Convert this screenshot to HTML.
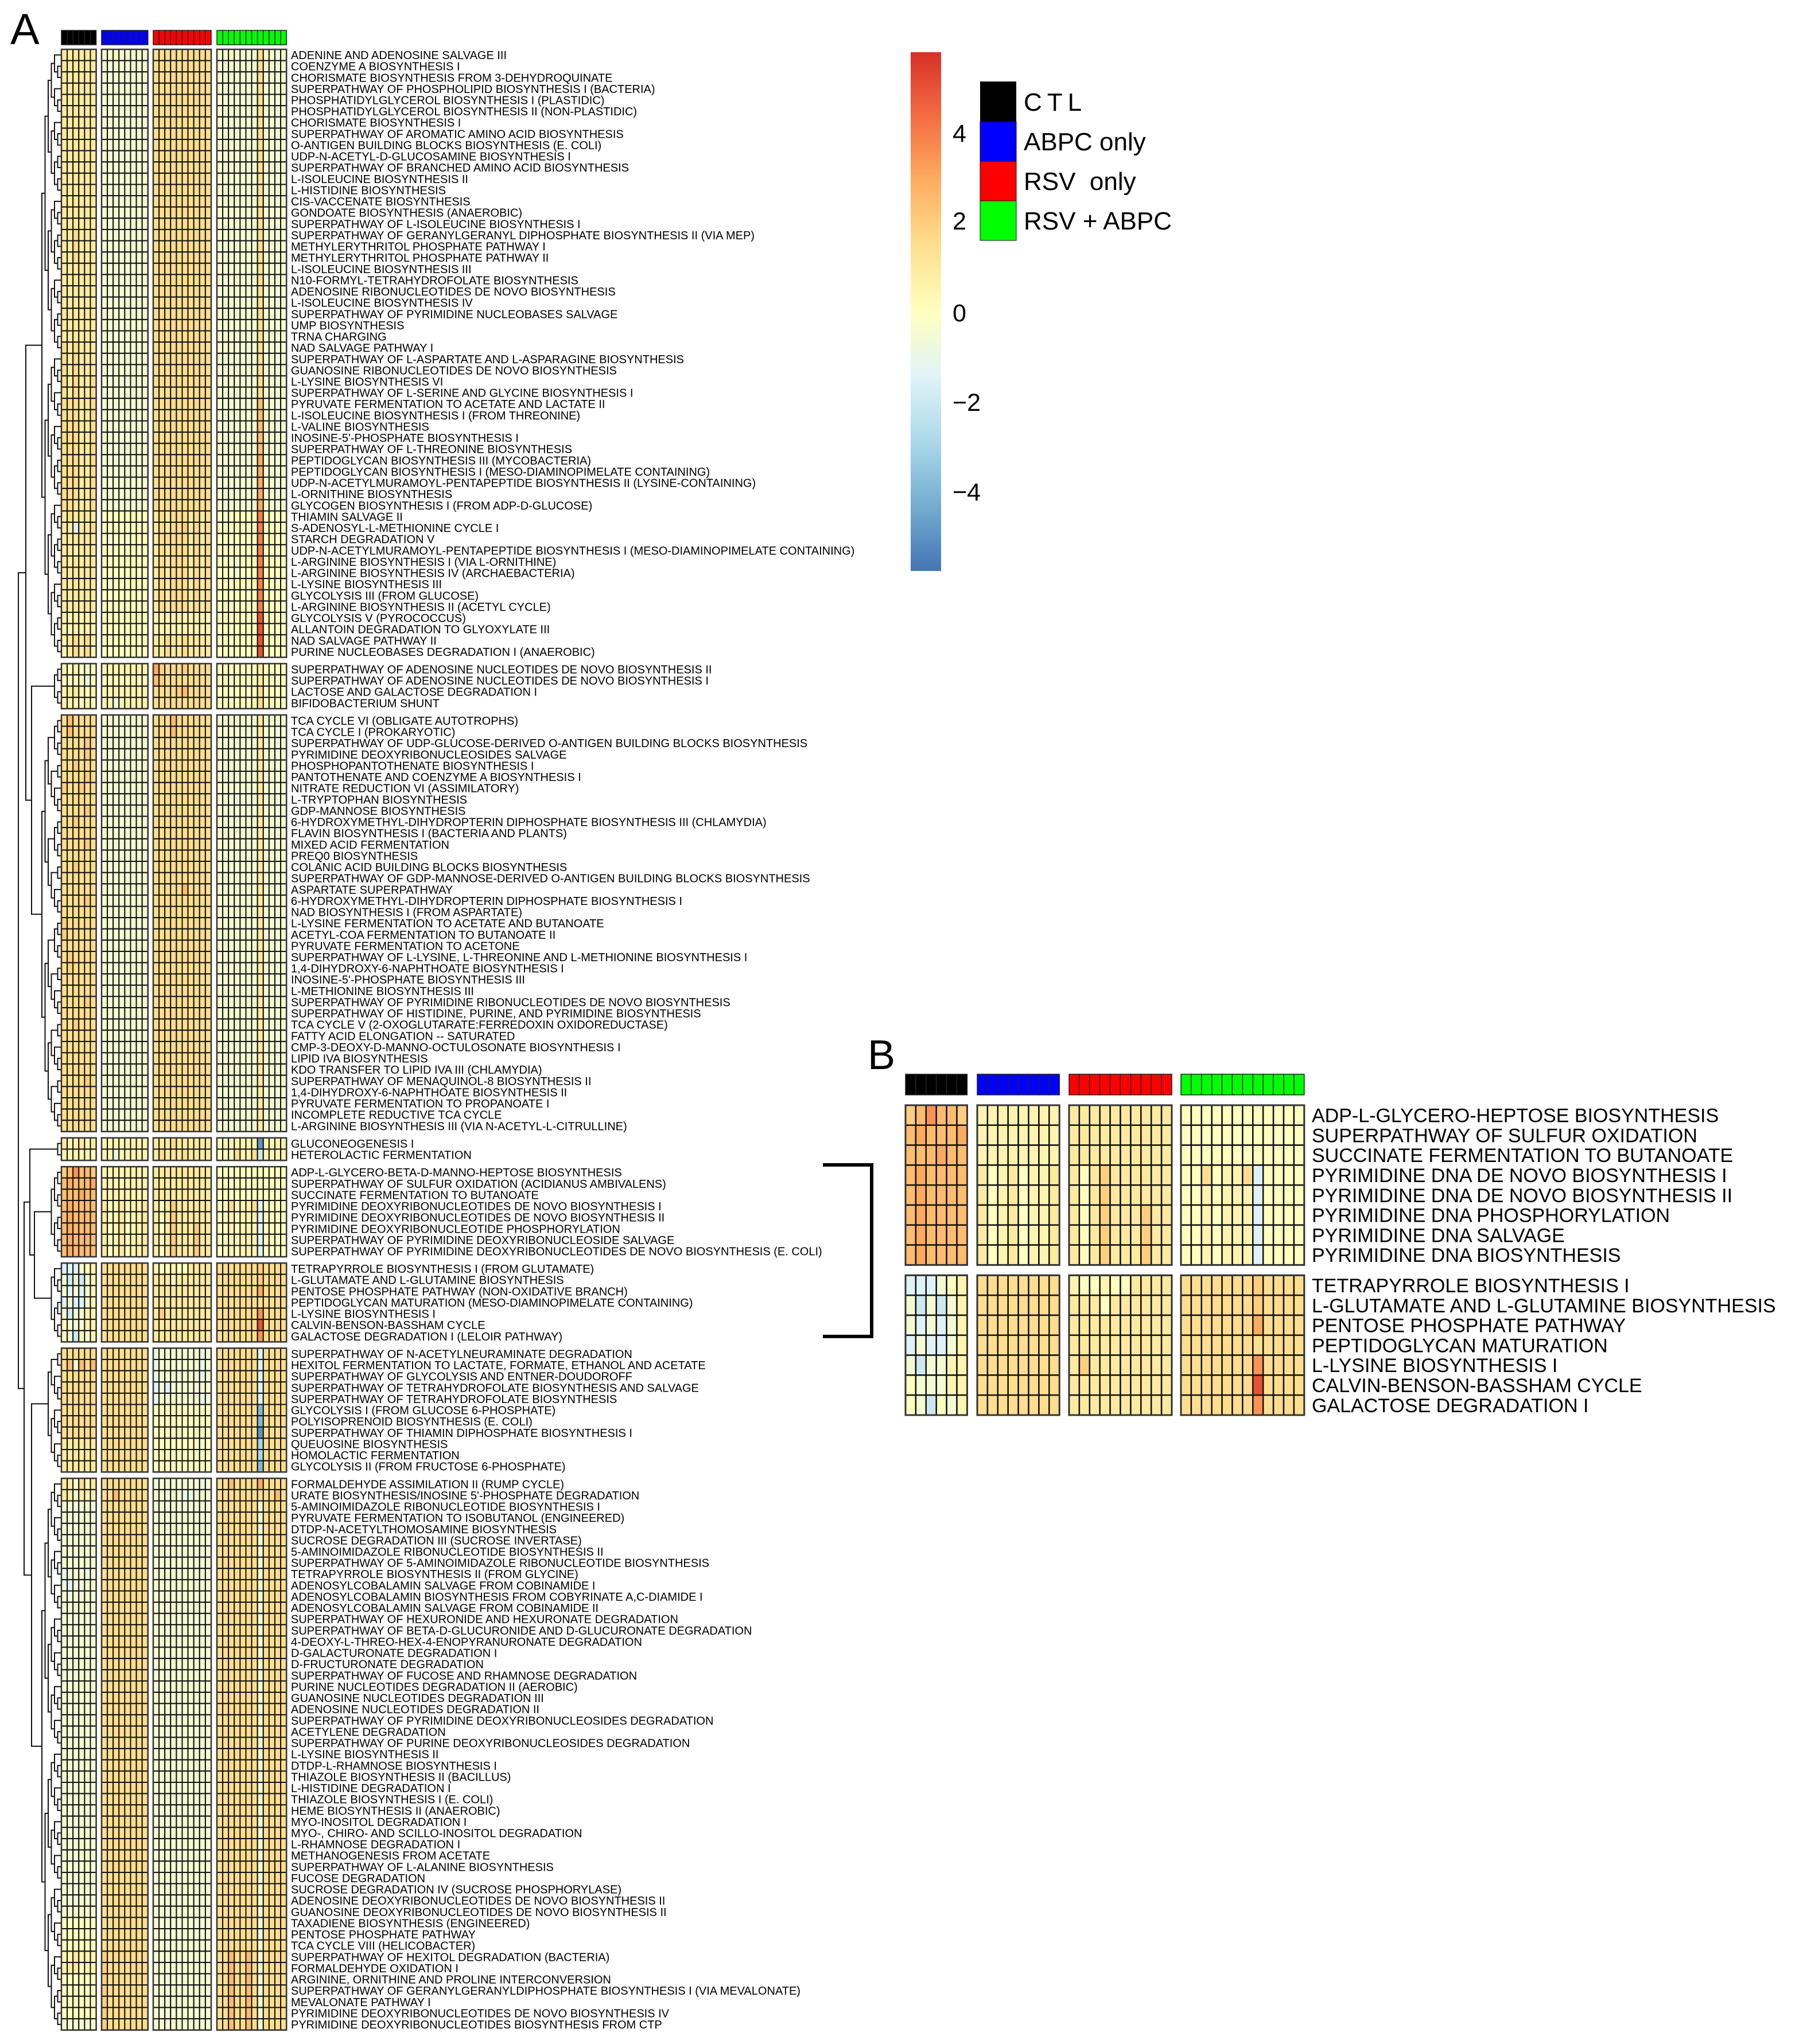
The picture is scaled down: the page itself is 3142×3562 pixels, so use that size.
<!DOCTYPE html>
<html><head><meta charset="utf-8"><style>
html,body{margin:0;padding:0;background:#fff;}
svg{display:block;font-family:"Liberation Sans",sans-serif;}
</style></head><body>
<svg id="fig" width="3142" height="3562" viewBox="0 0 3142 3562" xmlns="http://www.w3.org/2000/svg">
<defs><linearGradient id="cbar" x1="0" y1="1" x2="0" y2="0">
<stop offset="0" stop-color="#4575b4"/><stop offset="0.125" stop-color="#74add1"/><stop offset="0.25" stop-color="#abd9e9"/><stop offset="0.375" stop-color="#e0f3f8"/><stop offset="0.5" stop-color="#ffffbf"/><stop offset="0.625" stop-color="#fee090"/><stop offset="0.75" stop-color="#fdae61"/><stop offset="0.875" stop-color="#f46d43"/><stop offset="1" stop-color="#d73027"/></linearGradient></defs>
<text x="18" y="77" font-size="76">A</text>
<text x="1512" y="1863" font-size="72">B</text>
<g>
<rect x="1587" y="91" width="53" height="904" fill="url(#cbar)"/>
<g font-size="43">
<text x="1660" y="247">4</text><text x="1660" y="400">2</text><text x="1660" y="560">0</text><text x="1660" y="716">−2</text><text x="1660" y="872">−4</text></g>
</g>
<g font-size="44">
<rect x="1708" y="142" width="63" height="70" fill="#000"/>
<rect x="1708" y="212" width="63" height="69" fill="#0000ff" stroke="#111"/>
<rect x="1708" y="281" width="63" height="69" fill="#ff0000" stroke="#111"/>
<rect x="1708" y="350" width="63" height="69" fill="#00ff00" stroke="#111"/>
<text x="1784" y="193" letter-spacing="9">CTL</text>
<text x="1784" y="262">ABPC only</text>
<text x="1784" y="331" xml:space="preserve">RSV  only</text>
<text x="1784" y="400">RSV + ABPC</text>
</g>
<g stroke="#000" stroke-width="6" fill="none">
<path d="M1434 2030 H1519 V2329 H1434"/></g>
<g id="gA"></g>
<g id="gB"></g>
</svg>
<script>
// ---- data ----
const groupNames = ["CTL","ABPC only","RSV only","RSV + ABPC"];
const groupSizes = [6,8,10,12];
const groupColors = ["#000000","#0000ff","#ff0000","#00ff00"];
const clusterSizes = [54,4,37,2,8,7,11,49];
// value code: a=-5 b=-4 c=-3 d=-2 e=-1.5 f=-1 g=-0.5 h=0 i=0.5 j=1 k=1.5 l=2 m=2.5 n=3 o=3.5 p=4 q=5
const codeValues = {a:-5,b:-4,c:-3,d:-2,e:-1.5,f:-1,g:-0.5,h:0,i:0.5,j:1,k:1.5,l:2,m:2.5,n:3,o:3.5,p:4,q:5};
const labelsA = ["ADENINE AND ADENOSINE SALVAGE III","COENZYME A BIOSYNTHESIS I","CHORISMATE BIOSYNTHESIS FROM 3-DEHYDROQUINATE","SUPERPATHWAY OF PHOSPHOLIPID BIOSYNTHESIS I (BACTERIA)","PHOSPHATIDYLGLYCEROL BIOSYNTHESIS I (PLASTIDIC)","PHOSPHATIDYLGLYCEROL BIOSYNTHESIS II (NON-PLASTIDIC)","CHORISMATE BIOSYNTHESIS I","SUPERPATHWAY OF AROMATIC AMINO ACID BIOSYNTHESIS","O-ANTIGEN BUILDING BLOCKS BIOSYNTHESIS (E. COLI)","UDP-N-ACETYL-D-GLUCOSAMINE BIOSYNTHESIS I","SUPERPATHWAY OF BRANCHED AMINO ACID BIOSYNTHESIS","L-ISOLEUCINE BIOSYNTHESIS II","L-HISTIDINE BIOSYNTHESIS","CIS-VACCENATE BIOSYNTHESIS","GONDOATE BIOSYNTHESIS (ANAEROBIC)","SUPERPATHWAY OF L-ISOLEUCINE BIOSYNTHESIS I","SUPERPATHWAY OF GERANYLGERANYL DIPHOSPHATE BIOSYNTHESIS II (VIA MEP)","METHYLERYTHRITOL PHOSPHATE PATHWAY I","METHYLERYTHRITOL PHOSPHATE PATHWAY II","L-ISOLEUCINE BIOSYNTHESIS III","N10-FORMYL-TETRAHYDROFOLATE BIOSYNTHESIS","ADENOSINE RIBONUCLEOTIDES DE NOVO BIOSYNTHESIS","L-ISOLEUCINE BIOSYNTHESIS IV","SUPERPATHWAY OF PYRIMIDINE NUCLEOBASES SALVAGE","UMP BIOSYNTHESIS","TRNA CHARGING","NAD SALVAGE PATHWAY I","SUPERPATHWAY OF L-ASPARTATE AND L-ASPARAGINE BIOSYNTHESIS","GUANOSINE RIBONUCLEOTIDES DE NOVO BIOSYNTHESIS","L-LYSINE BIOSYNTHESIS VI","SUPERPATHWAY OF L-SERINE AND GLYCINE BIOSYNTHESIS I","PYRUVATE FERMENTATION TO ACETATE AND LACTATE II","L-ISOLEUCINE BIOSYNTHESIS I (FROM THREONINE)","L-VALINE BIOSYNTHESIS","INOSINE-5'-PHOSPHATE BIOSYNTHESIS I","SUPERPATHWAY OF L-THREONINE BIOSYNTHESIS","PEPTIDOGLYCAN BIOSYNTHESIS III (MYCOBACTERIA)","PEPTIDOGLYCAN BIOSYNTHESIS I (MESO-DIAMINOPIMELATE CONTAINING)","UDP-N-ACETYLMURAMOYL-PENTAPEPTIDE BIOSYNTHESIS II (LYSINE-CONTAINING)","L-ORNITHINE BIOSYNTHESIS","GLYCOGEN BIOSYNTHESIS I (FROM ADP-D-GLUCOSE)","THIAMIN SALVAGE II","S-ADENOSYL-L-METHIONINE CYCLE I","STARCH DEGRADATION V","UDP-N-ACETYLMURAMOYL-PENTAPEPTIDE BIOSYNTHESIS I (MESO-DIAMINOPIMELATE CONTAINING)","L-ARGININE BIOSYNTHESIS I (VIA L-ORNITHINE)","L-ARGININE BIOSYNTHESIS IV (ARCHAEBACTERIA)","L-LYSINE BIOSYNTHESIS III","GLYCOLYSIS III (FROM GLUCOSE)","L-ARGININE BIOSYNTHESIS II (ACETYL CYCLE)","GLYCOLYSIS V (PYROCOCCUS)","ALLANTOIN DEGRADATION TO GLYOXYLATE III","NAD SALVAGE PATHWAY II","PURINE NUCLEOBASES DEGRADATION I (ANAEROBIC)",
"SUPERPATHWAY OF ADENOSINE NUCLEOTIDES DE NOVO BIOSYNTHESIS II","SUPERPATHWAY OF ADENOSINE NUCLEOTIDES DE NOVO BIOSYNTHESIS I","LACTOSE AND GALACTOSE DEGRADATION I","BIFIDOBACTERIUM SHUNT",
"TCA CYCLE VI (OBLIGATE AUTOTROPHS)","TCA CYCLE I (PROKARYOTIC)","SUPERPATHWAY OF UDP-GLUCOSE-DERIVED O-ANTIGEN BUILDING BLOCKS BIOSYNTHESIS","PYRIMIDINE DEOXYRIBONUCLEOSIDES SALVAGE","PHOSPHOPANTOTHENATE BIOSYNTHESIS I","PANTOTHENATE AND COENZYME A BIOSYNTHESIS I","NITRATE REDUCTION VI (ASSIMILATORY)","L-TRYPTOPHAN BIOSYNTHESIS","GDP-MANNOSE BIOSYNTHESIS","6-HYDROXYMETHYL-DIHYDROPTERIN DIPHOSPHATE BIOSYNTHESIS III (CHLAMYDIA)","FLAVIN BIOSYNTHESIS I (BACTERIA AND PLANTS)","MIXED ACID FERMENTATION","PREQ0 BIOSYNTHESIS","COLANIC ACID BUILDING BLOCKS BIOSYNTHESIS","SUPERPATHWAY OF GDP-MANNOSE-DERIVED O-ANTIGEN BUILDING BLOCKS BIOSYNTHESIS","ASPARTATE SUPERPATHWAY","6-HYDROXYMETHYL-DIHYDROPTERIN DIPHOSPHATE BIOSYNTHESIS I","NAD BIOSYNTHESIS I (FROM ASPARTATE)","L-LYSINE FERMENTATION TO ACETATE AND BUTANOATE","ACETYL-COA FERMENTATION TO BUTANOATE II","PYRUVATE FERMENTATION TO ACETONE","SUPERPATHWAY OF L-LYSINE, L-THREONINE AND L-METHIONINE BIOSYNTHESIS I","1,4-DIHYDROXY-6-NAPHTHOATE BIOSYNTHESIS I","INOSINE-5'-PHOSPHATE BIOSYNTHESIS III","L-METHIONINE BIOSYNTHESIS III","SUPERPATHWAY OF PYRIMIDINE RIBONUCLEOTIDES DE NOVO BIOSYNTHESIS","SUPERPATHWAY OF HISTIDINE, PURINE, AND PYRIMIDINE BIOSYNTHESIS","TCA CYCLE V (2-OXOGLUTARATE:FERREDOXIN OXIDOREDUCTASE)","FATTY ACID ELONGATION -- SATURATED","CMP-3-DEOXY-D-MANNO-OCTULOSONATE BIOSYNTHESIS I","LIPID IVA BIOSYNTHESIS","KDO TRANSFER TO LIPID IVA III (CHLAMYDIA)","SUPERPATHWAY OF MENAQUINOL-8 BIOSYNTHESIS II","1,4-DIHYDROXY-6-NAPHTHOATE BIOSYNTHESIS II","PYRUVATE FERMENTATION TO PROPANOATE I","INCOMPLETE REDUCTIVE TCA CYCLE","L-ARGININE BIOSYNTHESIS III (VIA N-ACETYL-L-CITRULLINE)",
"GLUCONEOGENESIS I","HETEROLACTIC FERMENTATION",
"ADP-L-GLYCERO-BETA-D-MANNO-HEPTOSE BIOSYNTHESIS","SUPERPATHWAY OF SULFUR OXIDATION (ACIDIANUS AMBIVALENS)","SUCCINATE FERMENTATION TO BUTANOATE","PYRIMIDINE DEOXYRIBONUCLEOTIDES DE NOVO BIOSYNTHESIS I","PYRIMIDINE DEOXYRIBONUCLEOTIDES DE NOVO BIOSYNTHESIS II","PYRIMIDINE DEOXYRIBONUCLEOTIDE PHOSPHORYLATION","SUPERPATHWAY OF PYRIMIDINE DEOXYRIBONUCLEOSIDE SALVAGE","SUPERPATHWAY OF PYRIMIDINE DEOXYRIBONUCLEOTIDES DE NOVO BIOSYNTHESIS (E. COLI)",
"TETRAPYRROLE BIOSYNTHESIS I (FROM GLUTAMATE)","L-GLUTAMATE AND L-GLUTAMINE BIOSYNTHESIS","PENTOSE PHOSPHATE PATHWAY (NON-OXIDATIVE BRANCH)","PEPTIDOGLYCAN MATURATION (MESO-DIAMINOPIMELATE CONTAINING)","L-LYSINE BIOSYNTHESIS I","CALVIN-BENSON-BASSHAM CYCLE","GALACTOSE DEGRADATION I (LELOIR PATHWAY)",
"SUPERPATHWAY OF N-ACETYLNEURAMINATE DEGRADATION","HEXITOL FERMENTATION TO LACTATE, FORMATE, ETHANOL AND ACETATE","SUPERPATHWAY OF GLYCOLYSIS AND ENTNER-DOUDOROFF","SUPERPATHWAY OF TETRAHYDROFOLATE BIOSYNTHESIS AND SALVAGE","SUPERPATHWAY OF TETRAHYDROFOLATE BIOSYNTHESIS","GLYCOLYSIS I (FROM GLUCOSE 6-PHOSPHATE)","POLYISOPRENOID BIOSYNTHESIS (E. COLI)","SUPERPATHWAY OF THIAMIN DIPHOSPHATE BIOSYNTHESIS I","QUEUOSINE BIOSYNTHESIS","HOMOLACTIC FERMENTATION","GLYCOLYSIS II (FROM FRUCTOSE 6-PHOSPHATE)",
"FORMALDEHYDE ASSIMILATION II (RUMP CYCLE)","URATE BIOSYNTHESIS/INOSINE 5'-PHOSPHATE DEGRADATION","5-AMINOIMIDAZOLE RIBONUCLEOTIDE BIOSYNTHESIS I","PYRUVATE FERMENTATION TO ISOBUTANOL (ENGINEERED)","DTDP-N-ACETYLTHOMOSAMINE BIOSYNTHESIS","SUCROSE DEGRADATION III (SUCROSE INVERTASE)","5-AMINOIMIDAZOLE RIBONUCLEOTIDE BIOSYNTHESIS II","SUPERPATHWAY OF 5-AMINOIMIDAZOLE RIBONUCLEOTIDE BIOSYNTHESIS","TETRAPYRROLE BIOSYNTHESIS II (FROM GLYCINE)","ADENOSYLCOBALAMIN SALVAGE FROM COBINAMIDE I","ADENOSYLCOBALAMIN BIOSYNTHESIS FROM COBYRINATE A,C-DIAMIDE I","ADENOSYLCOBALAMIN SALVAGE FROM COBINAMIDE II","SUPERPATHWAY OF HEXURONIDE AND HEXURONATE DEGRADATION","SUPERPATHWAY OF BETA-D-GLUCURONIDE AND D-GLUCURONATE DEGRADATION","4-DEOXY-L-THREO-HEX-4-ENOPYRANURONATE DEGRADATION","D-GALACTURONATE DEGRADATION I","D-FRUCTURONATE DEGRADATION","SUPERPATHWAY OF FUCOSE AND RHAMNOSE DEGRADATION","PURINE NUCLEOTIDES DEGRADATION II (AEROBIC)","GUANOSINE NUCLEOTIDES DEGRADATION III","ADENOSINE NUCLEOTIDES DEGRADATION II","SUPERPATHWAY OF PYRIMIDINE DEOXYRIBONUCLEOSIDES DEGRADATION","ACETYLENE DEGRADATION","SUPERPATHWAY OF PURINE DEOXYRIBONUCLEOSIDES DEGRADATION","L-LYSINE BIOSYNTHESIS II","DTDP-L-RHAMNOSE BIOSYNTHESIS I","THIAZOLE BIOSYNTHESIS II (BACILLUS)","L-HISTIDINE DEGRADATION I","THIAZOLE BIOSYNTHESIS I (E. COLI)","HEME BIOSYNTHESIS II (ANAEROBIC)","MYO-INOSITOL DEGRADATION I","MYO-, CHIRO- AND SCILLO-INOSITOL DEGRADATION","L-RHAMNOSE DEGRADATION I","METHANOGENESIS FROM ACETATE","SUPERPATHWAY OF L-ALANINE BIOSYNTHESIS","FUCOSE DEGRADATION","SUCROSE DEGRADATION IV (SUCROSE PHOSPHORYLASE)","ADENOSINE DEOXYRIBONUCLEOTIDES DE NOVO BIOSYNTHESIS II","GUANOSINE DEOXYRIBONUCLEOTIDES DE NOVO BIOSYNTHESIS II","TAXADIENE BIOSYNTHESIS (ENGINEERED)","PENTOSE PHOSPHATE PATHWAY","TCA CYCLE VIII (HELICOBACTER)","SUPERPATHWAY OF HEXITOL DEGRADATION (BACTERIA)","FORMALDEHYDE OXIDATION I","ARGININE, ORNITHINE AND PROLINE INTERCONVERSION","SUPERPATHWAY OF GERANYLGERANYLDIPHOSPHATE BIOSYNTHESIS I (VIA MEVALONATE)","MEVALONATE PATHWAY I","PYRIMIDINE DEOXYRIBONUCLEOTIDES DE NOVO BIOSYNTHESIS IV","PYRIMIDINE DEOXYRIBONUCLEOTIDES BIOSYNTHESIS FROM CTP"];
const valuesA = [
// cluster 1
"jjjjjj|gghggggg|kkkkkkkkkk|gghggggkhggg","jjjjjj|gggggggg|kkkkkkkkkk|gggggggkgggg","jjjjjj|gggggggg|kkkkkkkkkk|gggggggkgggg","jjjjjj|gggggggg|kkkkkkkkkk|gggggggkgggg","jjjjjj|gggggggg|kkkkkkkkkk|gggggggkgggg","jjjjjj|gggggggg|kkkkkkkkkk|gggggggkgggg",
"jjjjjj|gggggggg|kkkkkkkkkk|gggggggkgggg","jjjjjj|gggggggg|kkkkkkkkkk|gggggggkgggg","jjjjjj|gggggggg|kkkkkkkkkk|gggggggkgggg","jjjjjj|gggggggg|kkkkkkkkkk|gggggggkgggg","jjjjjj|gggggggg|kkkkkkkkkk|gggggggkgggg","jjjjjj|gggggggg|kkkkkkkkkk|gggggggkgggg",
"jjjjjj|gggggggg|kkkkkkkkkk|gggggggkgggg","jjjjjj|gggggggg|kkkkkkkkkk|gggggggkgggg","jjjjjj|gggggggg|kkkkkkkkkk|gggggggkgggg","jjjjjj|gggggggg|kkkkkkkkkk|gggggggkgggg","jjkjjj|gggggggg|kkkkkkkkkk|gggggggkgggg","jjkjjj|gggggggg|kkkkkkkkkk|gggggggkgggg",
"jjkjjj|gggggggg|kkkkkkkkkk|gggggggkgggg","jjjjjj|gggggggg|kkkkkkkkkk|gggggggkgggg","jjjjjj|gggggggg|kkkkkkkkkk|gggggggkgggg","jjjjjj|gggggggg|kkkkkkkkkk|gggggggkgggg","jjjjjj|gggggggg|kkkkkkkkkk|gggggggkgggg","jjjjjj|gggggggg|kkkkkkkkkk|gggggggkgggg",
"jjjjjj|gggggggg|kkkkkkkkkk|gggggggkgggg","jjjjjj|gggggggg|kkkkkkkkkk|gggggggkgggg","kjkjjj|gggggggg|kkkkkkkkkk|gggggggkgggg","kjkjjj|gggggggg|kkkkkkkkkk|gggggggkgggg","kjkjjj|gggggggg|kkkkkkkkkk|gggggggkgggg","kjkjjk|gggggggg|kkkkkkkkkk|gggggggkgggg",
"kjkjjk|gggggggg|kkkkkkkkkk|gggggggkgggg","kkkjjk|gggggggg|kkkkkkkkkk|gggggggmgggg","kkkjjk|gggggggg|kkkkkkkkkk|gggggggmgggg","kkkjjk|gggggggg|kkkkkkkkkk|gggggggmgggg","kkkjjk|gggggggg|kkkkkkkkkk|gggggggmgggg","kkkjjk|gggggggg|kkkkkkkkkk|gggggggmgggg",
"kkkjjk|gggggggg|kkkkkkkkkk|gggggggngggg","kkkjjk|gggggggg|kkkkkkkkkk|gggggggngggg","kkkjjk|gggggggg|kkkkkkkkkk|gggggggngggg","kkkjjk|gggggggg|kkkkkkkkkk|gggggggngggg","kkjjjk|gggggggg|kkkkkkkkkk|gggggggngggg","jkjjjj|hhhhhhhh|jkjkkkjkjk|hghhhhhphhhh",
"jjejjk|hhhhhhhh|jkjkkljkjk|hhhhhhhphhhh","jjjjjj|hghhghhh|jkkkkkjkjk|hhhhhhhphihh","jjijjj|hhhhhhhh|jkjkkkjkjk|hhhhhhhphhhh","jjjjjj|hhhhhhhh|jkjkkkjkjk|hhhghhhphhhh","jjjjjj|hhhhhhhh|jkjkkkjkjk|hhhghhhphhhh","jjjjjj|hghhhhhh|jkjkkkjkjk|hhhhhhhphhhh",
"jjjjjj|hhhhhhhh|jkjkkkjkjk|hhhhhhhphhhh","jjjjjj|hhhhhhhh|jkjkkkjkjk|hhhhhhhphhhh","iiiiii|hhhhhhhh|iiiiiiiiii|hhhhhhhqhhhh","iiiiii|hhhhhhhh|iiiiiiiiii|hhhhhhhqhhhh","ijkjki|hhhhhhhh|jjkjjkjjjj|hhhhhhhqhhhh","ijkjki|hhhhhhhh|jjkjjkjjjj|hhhhhhhqhhhh",
// cluster 2
"ihihgh|iiiiiiii|nlkkklkkkk|hhhhhhhjhhhh","hhhhfh|hhhhhhhh|mlkkkkkkkk|hhhhhhhjhhhh","ijjihi|iiiiiiii|kkkklmkkkk|hhhhhhhkhhhh","iiihih|iifiiiii|kkkkkkkkkk|hhhhhhikhhhh",
// cluster 3
"kmkkkk|gggggggg|kkkmkkkkkk|gggggggjgggg","kmkkkk|gggggggg|kkkmkkkkkk|gggggggjgggg","kkkklk|gggggggg|kkkkkkkkkk|gggggggjgggg","kkkklk|gggggggg|kkkkkkkkkk|gggggggjgggg","kklkkk|gggggggg|kkkkkkkkkk|gggggggjgggg","kkkklk|gggggggg|kkkkkkkkkk|gggggggjgggg",
"lkklkk|gggggggg|kkkkkkkkkk|gggggggjgggg","kkkkkk|gggggggg|kkkkkkkkkk|gggfgggjgggg","kkkklk|gggggggg|kkkkkkkkkk|gggggggjgggg","kklkkk|gggggggg|kkkkkkkkkk|gggggggjgggg","kkkkkk|gggggggg|kkkkkkkkkk|gggggggjgggg","kkkklk|gggggggg|kkkkkkkkkk|gggggggjgggg",
"kkkkkk|gggggggg|kkkkkkkkkk|gggggggjgggg","kklkkk|gggggggg|kkkkkkkkkk|gggggggjgggg","kkkkkk|gggggggg|kkkkkkkkkk|gggggggjgggg","kkkkkk|gggggggg|kkkkkmkkkk|gggggggjgggg","kkkklk|gggggggg|kkkkkkkkkk|gggggggjgggg","kkkkkk|gggggggg|kkkkkkkkkk|gggggggjgggg",
"lkkkkk|gggggggg|kkkkkkkkkk|gggggggjgggg","lkkkkk|gggggggg|kkkkkkkkkk|gggggggjgggg","kkkkkk|gggggggg|kkkkkkkkkk|gggggggjgggg","klkkkk|gggggggg|kkkkkkkkkk|gggggggjgggg","klkkkk|gggggggg|kkkkkkkkkk|gggggggjgggg","kkkkkk|gggggggg|kkkkkkkkkk|gggggggjgggg",
"kkkkkk|gggggggg|kkkkkkkkkk|gggggggjgggg","kkkklk|gggggggg|kkkkkkkkkk|gggggggjgggg","kkkkkk|gggggggg|kkkkkkkkkk|gggggggjgggg","kklkkk|gggggggg|kkkkkkkkkk|gggggggjgggg","kkkkkk|gggggggg|kkkkkkkkkk|gggggggjgggg","kkkkkk|gggggggg|kkkkkkkkkk|gggggggjgggg",
"kkkkkk|gggggggg|kkkkkkkkkk|gggggggjgggg","kkkkkk|gggggggg|kkkkkkkkkk|gggggggjgggg","kkkklk|gggggggg|kkkkkkkkkk|gggggggjgggg","kkkkkk|gggggggg|kkkkkkkkkk|gggggggjgggg","kkkkkk|gggggggg|kkkkkkkkkk|gggggggjgggg","kkkkkk|gggggggg|kkkkkkkkkk|gggggggjgggg",
"kkkkkk|gggggggg|kkkkkkkkkk|gggggggjgggg",
// cluster 4
"jiijij|iiiiiiii|jjjkjjjjjj|hiiiiiiaiiii","iiiiih|iifiiiii|jkjjjkjjjj|hhhkiikdiiii",
// cluster 5
"lmomml|iiiiiiii|jjjjjjjjjj|hhhhhhhhhhhh","mnmmmn|iiiiiiii|jjjjjjjjjj|hhhhhhhhhhhh","mmmnmm|iiiiiiii|jjjjjjjjjj|hhhhhhhhhhhh","mnmmmm|jhijhiij|jhjljjjjjj|hhkhiikehhhh",
"mnmmmm|jhijhiij|jhjljjjjjj|hhihiiiehhhh","mnmmmm|jhijhiij|jhjljjjljj|hhihiiiehhhh","mnmmmm|jhijhiij|jhjljjjljj|hhihiiiehhhh","mnmmmm|jhijhiij|jhjljjjljj|hhihiiiehhhh",
// cluster 6
"eeeghi|kkkkkkkk|ihhihhjjjj|kkkkkkklkkkk","gdgdgi|kkkkkkkk|jjjhjjjjjj|kkkkkkklkkkk","gegegi|kkkkkkkk|jjjjjjjjjj|kkkkkkknkkkk","egeegi|kkkkkkkk|jjjjjjjjjj|kkkkkkkkkkkk",
"gdggii|kkkkkkkk|jljjjjjjjj|kkkkkkkokkkk","hgggii|kkkkkkkk|jjjjjjjjjj|kkkkkkkqkkkk","hgdhgi|kkkkkkkk|jjjjjjjjjj|kkkkkkkokkkk",
// cluster 7
"kkkkkk|kkkkkkkk|fgggggggfg|kkkkkkkekkkk","kmgmkm|kkkkkkkk|fgggggggfg|kkkkkkkekkkk","kkkkkk|kkkkkkkk|fgggggggfg|kkkkkkkekkkk","kkkkkk|kkkkkkkk|egeggggggg|kkkkkkkekkkk",
"kkkkkk|kkkkkkkk|fgggggggfg|kkkkkkkekkkk","kkkkkk|kkkkkkkk|hhhhhhhhhh|kkkkkkkbkkkk","kkkkkk|kkkkkkkk|hhhhhhhhhh|kkkkkkkbkkkk","kkkkkk|kkkkkkkk|hhhhhhhhhh|kkkkkkkakkkk",
"jjjjjj|kkkkkkkk|hhhhhhhhgh|kkkkkkkckkkk","jjjjjj|kkkkkkkk|hhhhhhhhhh|kkkkkkkckkkk","jjjjjj|kkkkkkkk|hhhhhhhhhh|kkkkkkkbkkkk",
// cluster 8
"jjgkij|kkkkkkkk|ggggggggfg|kkmkkkknkkkk","jjgjii|kkmkkkkk|gggggffggg|kkkkkkkkkkmk","gggggg|kkkkkkkk|gggggggggg|kkkkkkkgkkkk","gggggg|kkkkkkkk|gggggggggg|kkkkkkkgkkkk",
"gggggg|kkkkkkkk|gggggggggg|kkkkkkkgkkkk","gggggg|kkkkkkkk|gggggggggg|kkkkkkkgkkkk","gggggg|kkkkkkkk|gggggggggg|kkkkkkkgkkkk","gggggg|kkkkkkkk|gggggggggg|kkkkkkkgkkkk",
"fgggfg|kkkkkkkk|gggggggggg|kkkkkkkgkkkk","fegfgg|kkkkkkkk|gggggggggg|kkkkkkkgkkkk","gggggg|kkkkkkkk|gggggggggg|kkkkkkkgkkkk","gggggg|kkkkkkkk|gggggggggg|kkkkkkkgkkkk",
"gggggg|kkkkkkkk|gggggggggg|kkkkkkkgkkkk","gggggg|kkkkkkkk|gggggggggg|kkkkkkkgkkkk","gggggg|kkkkkkkk|gggggggggg|kkkkkkkgkkkk","gggggg|kkkkkkkk|gggggggggg|kkkkkkkgkkkk",
"gggggg|kkkkkkkk|gggggggggg|kkkkkkkgkkkk","gggggg|kkkkkkkk|gggggggggg|kkkkkkkgkkkk","gggggg|kkkkkkkk|gggggggggg|kkkkkkkgkkkk","gggggg|kkkkkkkk|gggggggggg|kkkkkkkgkkkk",
"gggggg|kkkkkkkk|gggggggggg|kkkkkkkgkkkk","gggggg|kkkkkkkk|gggggggggg|kkkkkkkgkkkk","gggggg|kkkkkkkk|gggggggggg|kkkkkkkgkkkk","gggggg|kkkkkkkk|gggggggggg|kkkkkkkgkkkk",
"gggggg|kkkkkkkk|gggggggggg|kkkkkkkgkkkk","gggggg|kkkkkkkk|gggggggggg|kkkkkkkgkkkk","gggggg|kkkkkkkk|gggggggggg|kkkkkkkgkkkk","gggggg|kkkkkkkk|gggggggggg|kkkkkkkgkkkk",
"gggggg|kkkkkkkk|gggggggggg|kkkkkkkgkkkk","gggggg|kkkkkkkk|gggggggggg|kkkkkkkgkkkk","gggggg|kkkkkkkk|gggggggggg|kkkkkkkgkkkk","gggggg|kkkkkkkk|gggggggggg|kkkkkkkgkkkk",
"gggggg|kkkkkkkk|gggggggggg|kkkkkkkgkkkk","gggggg|kkkkkkkk|gggggggggg|kkkkkkkgkkkk","gggggg|kkkkkkkk|gggggggggg|kkkkkkkgkkkk","gggggg|kkkkkkkk|gggggggggg|kkkkkkkgkkkk",
"gggggg|kkkkkkkk|gggggggggg|kkkkkkkgkkkk","gggggg|kkkkkkkk|gggggggggg|kkkkkkkgkkkk","gggggg|kkkkkkkk|gggggggggg|kkkkkkkgkkkk","hhhhhh|kkkkkkkk|gggggggggg|kkkkkkkgkkkk",
"hhhhhh|kkkkkkkk|gggggggggg|kkkkkkkfkkkk","hhhhhh|kkkkkkkk|gggggggggg|kkkkkkkgkkkk","iijiii|lkkkkkkk|gggggggggg|kkmkkmkgkkkk","ijjhii|lkkkkkkk|gggggggggg|kkmkkmkgkkkk",
"hhhhhh|lkkkkkkk|gggggggggg|kkmkkmkgkkkk","hhhhhh|lkkkkkkk|gggggggggg|kkmkkmkgkkkk","hhhhhh|lkkkkkkk|gggggggggg|kkmkkmkgkkkk","hhhhhh|lkkkkkkk|gggggggggg|kkmkkmkgkkkk",
"gggggg|lkkkkkkk|gggggggggg|kkmkkmkgkkkk"];
const labelsB = ["ADP-L-GLYCERO-HEPTOSE BIOSYNTHESIS","SUPERPATHWAY OF SULFUR OXIDATION","SUCCINATE FERMENTATION TO BUTANOATE","PYRIMIDINE DNA DE NOVO BIOSYNTHESIS I","PYRIMIDINE DNA DE NOVO BIOSYNTHESIS II","PYRIMIDINE DNA PHOSPHORYLATION","PYRIMIDINE DNA SALVAGE","PYRIMIDINE DNA  BIOSYNTHESIS","TETRAPYRROLE BIOSYNTHESIS I","L-GLUTAMATE AND L-GLUTAMINE BIOSYNTHESIS","PENTOSE PHOSPHATE PATHWAY","PEPTIDOGLYCAN MATURATION","L-LYSINE BIOSYNTHESIS I","CALVIN-BENSON-BASSHAM CYCLE","GALACTOSE DEGRADATION I"];
const clusterSizesB = [8,7];
const rowsB = [97,98,99,100,101,102,103,104,105,106,107,108,109,110,111];

// ---- helpers ----
const NS = "http://www.w3.org/2000/svg";
const stops = ["#4575b4","#74add1","#abd9e9","#e0f3f8","#ffffbf","#fee090","#fdae61","#f46d43","#d73027"];
const vMin = -5.8, vMax = 5.8;
function hex(c){return [1,3,5].map(i=>parseInt(c.substr(i,2),16));}
function colorScale(v){
  if(v===undefined||isNaN(v)) v=0;
  let t=(v-vMin)/(vMax-vMin); t=Math.max(0,Math.min(1,t));
  const p=t*(stops.length-1), i=Math.min(stops.length-2,Math.floor(p)), f=p-i;
  const a=hex(stops[i]), b=hex(stops[i+1]);
  return "rgb("+a.map((x,k)=>Math.round(x+(b[k]-x)*f)).join(",")+")";
}
function el(tag, attrs, parent){const e=document.createElementNS(NS,tag);for(const k in attrs)e.setAttribute(k,attrs[k]);parent.appendChild(e);return e;}
function parseRow(s){return s.replace(/\|/g,"").split("").map(ch=>codeValues[ch]);}

function drawHeatmap(g, cfg){
  const {groupX, cellW, top, rowH, gap, sizes, rowIdx, labels, labelX, fontSize, annoY, annoH, dendro} = cfg;
  const rowY=[]; let y=top, blocks=[];
  sizes.forEach(n=>{blocks.push([y,n]); for(let i=0;i<n;i++){rowY.push(y);y+=rowH;} y+=gap;});
  groupSizes.forEach((n,gi)=>{
    for(let c=0;c<n;c++){
      const r=el("rect",{x:groupX[gi]+c*cellW,y:annoY,width:cellW,height:annoH,fill:groupColors[gi],stroke:"#222","stroke-width":1.5},g);
      
      
    }
  });
  rowIdx.forEach((ri,k)=>{
    const vals=parseRow(valuesA[ri]); let col=0;
    groupSizes.forEach((n,gi)=>{
      for(let c=0;c<n;c++,col++){
        const r=el("rect",{x:groupX[gi]+c*cellW,y:rowY[k],width:cellW,height:rowH,fill:colorScale(vals[col]),stroke:"#111","stroke-width":cfg.sw},g);
        
        
      }
    });
    const t=el("text",{x:labelX,y:rowY[k]+rowH/2+fontSize*0.36,"font-size":fontSize},g);
    t.setAttribute("xml:space","preserve");
    t.textContent=labels[k];
    
    
  });
  blocks.forEach(([by,n])=>{groupSizes.forEach((gs,gi)=>{
    const r=el("rect",{x:groupX[gi],y:by,width:gs*cellW,height:n*rowH,fill:"none",stroke:"#333","stroke-width":cfg.sw+0.5},g);
    
    
  });});
  if(dendro){
    const x0=groupX[0]-1, dg=el("g",{stroke:"#111","stroke-width":2,fill:"none"},g);
    
    
    let d="";
    function tree(lo,hi){
      if(hi-lo===1) return {y:rowY[lo]+rowH/2,h:0};
      const m=Math.floor((lo+hi)/2), a=tree(lo,m), b=tree(m,hi);
      const h=Math.max(a.h,b.h)+1, x=x0-h*5.5, xa=x0-a.h*5.5, xb=x0-b.h*5.5;
      d+=`M${xa} ${a.y}H${x}V${b.y}H${xb}`;
      return {y:(a.y+b.y)/2,h};
    }
    let off=0; const roots=[];
    sizes.forEach(n=>{const r=tree(off,off+n); roots.push({y:r.y,x:x0-r.h*5.5}); off+=n;});
    function join(a,b,x){d+=`M${a.x} ${a.y}H${x}V${b.y}H${b.x}`;return {x,y:(a.y+b.y)/2};}
    const c23=join(roots[1],roots[2],55), c123=join(roots[0],c23,45);
    const c56=join(roots[4],roots[5],60), c456=join(roots[3],c56,52);
    const c78=join(roots[6],roots[7],55), c4_8=join(c456,c78,42);
    join(c123,c4_8,32);
    el("path",{d},dg);
  }
}

drawHeatmap(document.getElementById("gA"),{groupX:[107,177,267,378],cellW:10.1,top:86,rowH:19.62,gap:11,sizes:clusterSizes,
  rowIdx:labelsA.map((_,i)=>i),labels:labelsA,labelX:507,fontSize:20,annoY:53,annoH:25,dendro:true,sw:2});
drawHeatmap(document.getElementById("gB"),{groupX:[1578,1703,1863,2058],cellW:17.9,top:1926,rowH:34.8,gap:18,sizes:clusterSizesB,
  rowIdx:rowsB,labels:labelsB,labelX:2286,fontSize:34,annoY:1872,annoH:36,dendro:false,sw:2.5});
</script>
</body></html>
